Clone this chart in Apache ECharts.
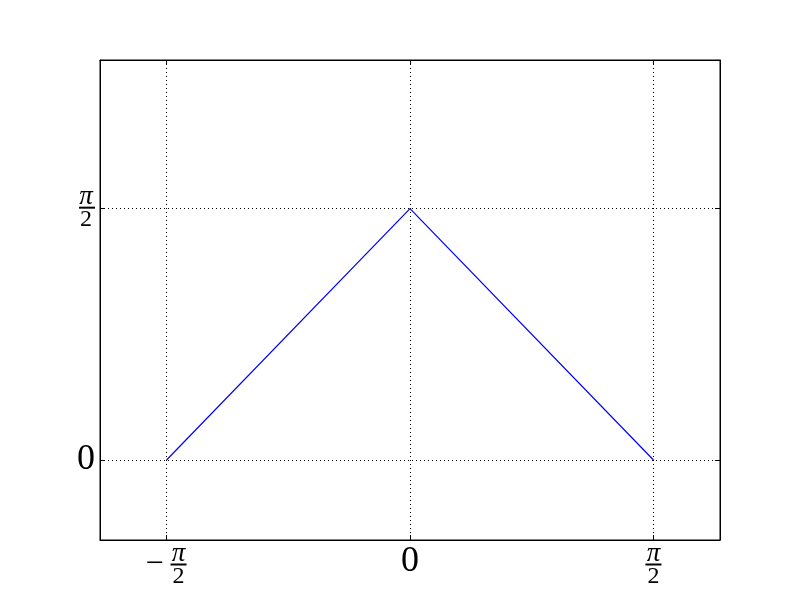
<!DOCTYPE html>
<html>
<head>
<meta charset="utf-8">
<script src="https://cdn.jsdelivr.net/npm/echarts@6/dist/echarts.min.js"></script>
<style>html,body{margin:0;padding:0;background:#fff}#c{width:800px;height:600px}</style>
</head>
<body>
<div id="c"></div>
<script>
const xValues = [-Math.PI / 2, 0, Math.PI / 2];
const yValues = [0, Math.PI / 2, 0];
const xTickValues = [-Math.PI / 2, 0, Math.PI / 2];
const xTickLabels = ['-π/2', '0', 'π/2'];
const yTickValues = [0, Math.PI / 2];
const yTickLabels = ['0', 'π/2'];

const FONT = '"Liberation Serif", "DejaVu Serif", serif';

function labelFor(values, labels, v) {
  let best = 0;
  for (let i = 0; i < values.length; i++) {
    if (Math.abs(values[i] - v) < Math.abs(values[best] - v)) best = i;
  }
  const s = labels[best];
  if (s === 'π/2') return '{num|π}\n{bar| }\n{den|2}';
  if (s === '-π/2') return '{sp| }{num|π}\n{minus|−}{bar| }\n{sp| }{den|2}';
  return '{zero|' + s + '}';
}

const rich = {
  num: { fontFamily: FONT, fontStyle: 'italic', fontSize: 27, width: 18, align: 'center', lineHeight: 19, color: '#000' },
  den: { fontFamily: FONT, fontSize: 24, width: 18, align: 'center', lineHeight: 21, color: '#000' },
  bar: { width: 16, height: 2, fontSize: 2, lineHeight: 3, backgroundColor: '#000' },
  sp: { width: 24, fontSize: 2 },
  minus: { fontFamily: FONT, fontSize: 32, width: 24, align: 'left', lineHeight: 3, color: '#000' },
  zero: { fontFamily: FONT, fontSize: 36, color: '#000', lineHeight: 36 }
};

const axisLineStyle = { show: true, onZero: false, lineStyle: { color: '#000', width: 1 } };
const splitStyle = { show: true, lineStyle: { color: '#000', type: [1, 3], width: 1 } };

const chart = echarts.init(document.getElementById('c'), null, { renderer: 'canvas' });
chart.setOption({
  animation: false,
  backgroundColor: '#fff',
  grid: { left: 100, top: 60, width: 620, height: 480, show: true, borderColor: '#000', borderWidth: 1 },
  xAxis: [
    {
      type: 'value', min: -2, max: 2, position: 'bottom',
      axisLine: axisLineStyle,
      axisTick: { show: true, inside: true, length: 5, customValues: xTickValues, lineStyle: { color: '#000' } },
      axisLabel: { show: true, customValues: xTickValues, margin: 4, rich: rich,
        formatter: v => labelFor(xTickValues, xTickLabels, v) },
      splitLine: splitStyle
    },
    {
      type: 'value', min: -2, max: 2, position: 'top',
      axisLine: axisLineStyle,
      axisTick: { show: true, inside: true, length: 5, customValues: xTickValues, lineStyle: { color: '#000' } },
      axisLabel: { show: false },
      splitLine: { show: false }
    }
  ],
  yAxis: [
    {
      type: 'value', min: -0.5, max: 2.5, position: 'left',
      axisLine: axisLineStyle,
      axisTick: { show: true, inside: true, length: 5, customValues: yTickValues, lineStyle: { color: '#000' } },
      axisLabel: { show: true, customValues: yTickValues, margin: 5, rich: rich,
        formatter: v => labelFor(yTickValues, yTickLabels, v) },
      splitLine: splitStyle
    },
    {
      type: 'value', min: -0.5, max: 2.5, position: 'right',
      axisLine: axisLineStyle,
      axisTick: { show: true, inside: true, length: 5, customValues: yTickValues, lineStyle: { color: '#000' } },
      axisLabel: { show: false },
      splitLine: { show: false }
    }
  ],
  series: [{
    type: 'line',
    xAxisIndex: 0, yAxisIndex: 0,
    data: xValues.map((x, i) => [x, yValues[i]]),
    showSymbol: false,
    symbol: 'none',
    lineStyle: { color: '#0000ff', width: 1.2 },
    z: 5
  }]
});
</script>
</body>
</html>
